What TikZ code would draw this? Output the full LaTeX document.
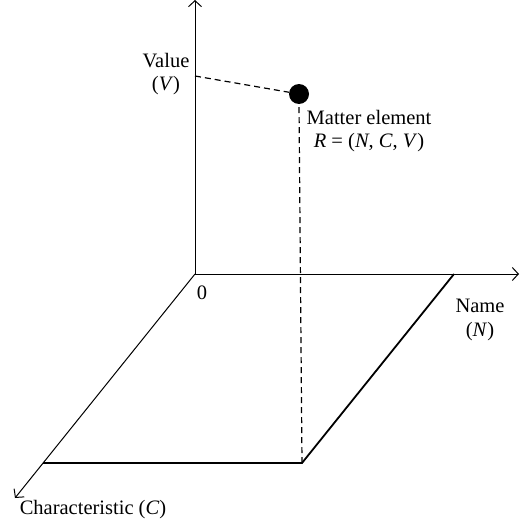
\documentclass[tikz,border=0pt]{standalone}
\usepackage{fontspec}
\setmainfont{Liberation Serif}
\usetikzlibrary{arrows.meta}

\begin{document}
\begin{tikzpicture}[
  x=1pt, y=-1pt,
  font=\fontsize{20.5}{23.5}\selectfont,
  axis/.style={-{Straight Barb[length=6pt,width=13pt]}, line width=1pt},
  edge/.style={line width=1.8pt},
  proj/.style={line width=1.2pt, dash pattern=on 6pt off 4pt},
  lbl/.style={align=center, inner sep=0pt},
  dot/.style={circle, fill=black, minimum size=20pt, inner sep=0pt}
]
\useasboundingbox (0,0) rectangle (525,527);

%% Axes
\coordinate (origin) at (195,274);
\coordinate (vtip)   at (195,0);
\coordinate (ntip)   at (519,274);
\coordinate (ctip)   at (15,498);
\draw[axis] (origin) -- (vtip);
\draw[axis] (origin) -- (ntip);
\draw[axis] (origin) -- (ctip);

%% Base plane
\coordinate (tr) at (454,274);
\coordinate (br) at (302,463);
\coordinate (bl) at (43,463);
\draw[edge] (tr) -- (br) -- (bl);

%% Matter element and projections
\node[dot] (elem) at (299,94) {};
\coordinate (vmark) at (195,76);
\draw[proj] (vmark) -- (elem);
\draw[proj] (br) -- (elem.south);

%% Labels
\node[lbl] (vlbl) at (166,74)  {Value\\(\textit{V})};
\node[lbl] (nlbl) at (480,320) {Name\\(\textit{N})};
\node[lbl] (clbl) at (93,510)  {Characteristic (\textit{C})};
\node[lbl] (zero) at (202,293) {0};
\node[lbl] (elbl) at (369,131) {Matter element\\\textit{R} = (\textit{N}, \textit{C}, \textit{V})};

\end{tikzpicture}
\end{document}
